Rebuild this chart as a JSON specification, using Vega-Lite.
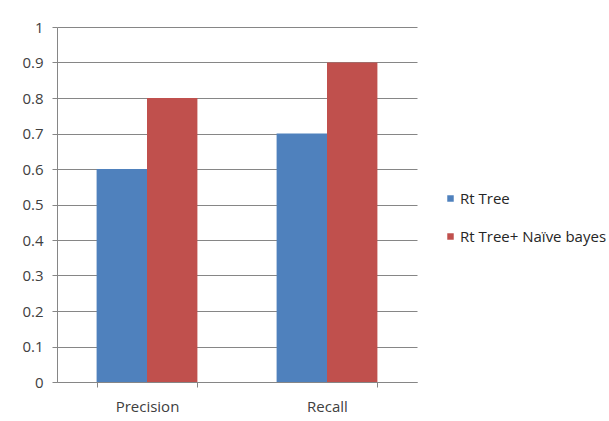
{
  "$schema": "https://vega.github.io/schema/vega-lite/v6.json",
  "width": 360,
  "height": 355,
  "autosize": {"type": "none"},
  "padding": {"left": 57, "top": 27, "right": 192, "bottom": 39},
  "background": "white",
  "data": {"values": [
    {"metric": "Precision", "series": "Rt Tree", "value": 0.6},
    {"metric": "Precision", "series": "Rt Tree+ Naïve bayes", "value": 0.8},
    {"metric": "Recall", "series": "Rt Tree", "value": 0.7},
    {"metric": "Recall", "series": "Rt Tree+ Naïve bayes", "value": 0.9}
  ]},
  "mark": {"type": "bar"},
  "encoding": {
    "x": {
      "field": "metric", "type": "nominal", "sort": ["Precision", "Recall"],
      "scale": {"paddingInner": 0.44, "paddingOuter": 0.22},
      "axis": {"title": null, "labelAngle": 0, "tickBand": "extent", "tickSize": 5, "tickColor": "#868686", "domainColor": "#868686", "labelPadding": 12, "labelFont": "Open Sans", "labelFontSize": 15, "labelColor": "#404040", "grid": false}
    },
    "xOffset": {"field": "series", "type": "nominal", "sort": ["Rt Tree", "Rt Tree+ Naïve bayes"]},
    "y": {
      "field": "value", "type": "quantitative",
      "scale": {"domain": [0, 1], "nice": false},
      "axis": {"title": null, "values": [0, 0.1, 0.2, 0.3, 0.4, 0.5, 0.6, 0.7, 0.8, 0.9, 1], "format": "~g", "tickSize": 5, "tickColor": "#868686", "domainColor": "#868686", "gridColor": "#868686", "gridOpacity": 1, "labelPadding": 9, "labelFont": "Open Sans", "labelFontSize": 15, "labelColor": "#404040"}
    },
    "color": {
      "field": "series", "type": "nominal",
      "scale": {"domain": ["Rt Tree", "Rt Tree+ Naïve bayes"], "range": ["#4F81BD", "#C0504D"]},
      "legend": {"title": null, "orient": "none", "legendX": 386, "legendY": 164, "symbolType": "square", "symbolSize": 42, "symbolStrokeWidth": 0, "symbolOffset": 0, "labelOffset": 2, "rowPadding": 22, "padding": 0, "labelFont": "Open Sans", "labelFontSize": 15, "labelColor": "#262626"}
    }
  },
  "config": {"view": {"stroke": null}}
}
